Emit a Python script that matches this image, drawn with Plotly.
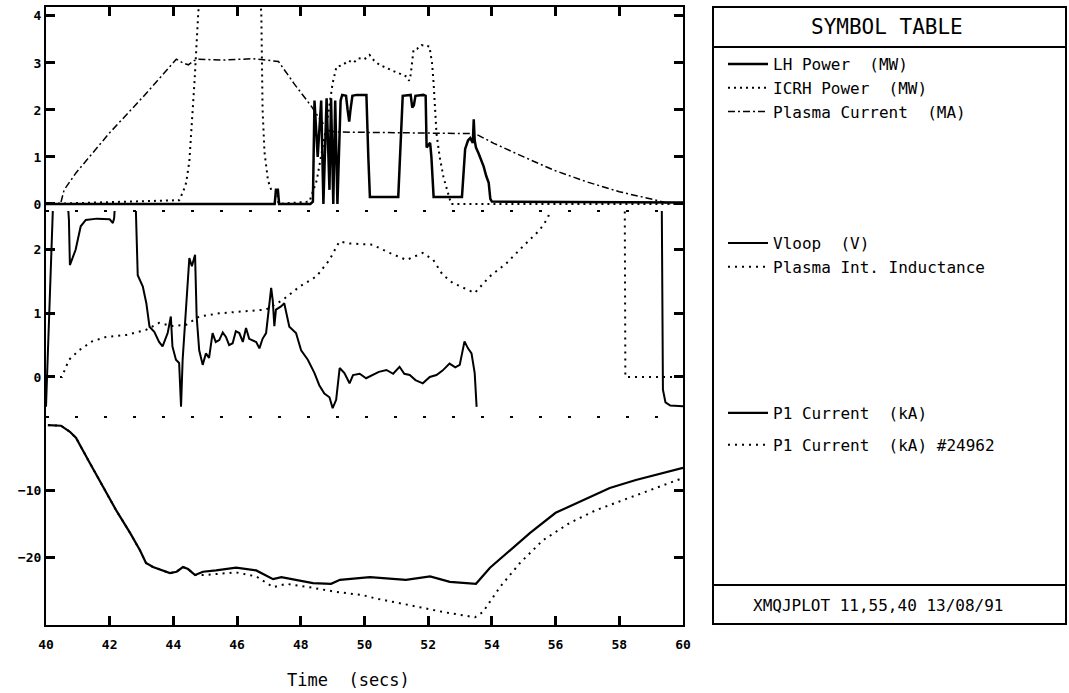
import plotly.graph_objects as go

# ---------------- data ----------------
t_lh = [40.0, 47.18, 47.22, 47.28, 47.32, 48.3, 48.38, 48.43, 48.53, 48.64, 48.71, 48.81, 48.9, 48.95,
        49.02, 49.08, 49.15, 49.25, 49.3, 49.42, 49.47, 49.52, 49.56, 49.62, 49.75, 50.06, 50.12, 50.17,
        51.06, 51.12, 51.2, 51.45, 51.5, 51.55, 51.6, 51.85, 51.92, 51.95, 52.06, 52.1, 52.17, 53.06,
        53.16, 53.25, 53.32, 53.4, 53.43, 53.46, 53.5, 53.58, 53.66, 53.74, 53.82, 53.9, 53.95, 54.0, 60.0]
lh_power = [0, 0, 0.3, 0.3, 0, 0, 0.05, 2.2, 1.0, 2.2, 0, 2.25, 0.3, 2.25,
            0, 2.2, 0, 2.2, 2.32, 2.3, 2.0, 1.75, 2.0, 2.3, 2.32, 2.32, 1.0, 0.15,
            0.15, 1.2, 2.3, 2.32, 2.05, 2.1, 2.3, 2.32, 2.3, 1.2, 1.3, 1.0, 0.15, 0.15,
            1.17, 1.35, 1.4, 1.3, 1.8, 1.35, 1.2, 1.08, 0.95, 0.8, 0.6, 0.45, 0.11, 0.05, 0.03]

t_icrh = [40.0, 44.18, 44.3, 44.4, 44.5, 44.56, 44.66, 44.78, 44.9, 46.65, 46.76, 46.8, 46.86, 46.97,
          47.07, 47.25, 47.3, 48.27, 48.5, 48.8, 49.0, 49.12, 49.3, 49.5, 49.65, 49.8, 50.0, 50.16,
          50.3, 50.47, 50.8, 51.0, 51.23, 51.35, 51.4, 51.45, 51.54, 51.65, 51.79, 52.04, 52.12, 52.17,
          52.26, 52.36, 52.48, 52.67, 52.72, 60.0]
icrh_power = [0, 0.08, 0.25, 0.45, 0.9, 1.5, 2.57, 4.06, 5.0, 5.0, 4.06, 2.0, 1.1, 0.5,
              0.3, 0.27, 0.0, 0.05, 0.5, 1.64, 2.57, 2.92, 2.95, 3.05, 3.0, 3.1, 3.08, 3.17,
              3.05, 2.96, 2.85, 2.8, 2.74, 2.7, 2.62, 2.75, 3.28, 3.3, 3.38, 3.35, 3.0, 2.57,
              1.5, 1.0, 0.57, 0.15, 0.0, 0.0]

t_ip = [40.47, 40.57, 40.94, 41.98, 43.05, 44.09, 44.3, 44.47, 44.65, 44.8, 45.5, 46.0, 46.5, 46.82,
        47.1, 47.3, 47.8, 48.33, 48.6, 48.9, 49.12, 50.0, 51.0, 52.0, 53.0, 53.46, 54.06, 55.0, 55.94,
        56.98, 58.0, 59.09, 59.6]
plasma_current = [0.04, 0.3, 0.66, 1.5, 2.28, 3.08, 3.0, 2.96, 3.05, 3.08, 3.06, 3.08, 3.09, 3.07,
                  3.05, 3.03, 2.55, 2.08, 1.8, 1.55, 1.53, 1.52, 1.52, 1.5, 1.5, 1.5, 1.29, 1.0, 0.72,
                  0.47, 0.26, 0.09, 0.0]

t_vl = [40.0, 40.05, 40.1, 40.18, 40.22, 40.3, 40.65, 40.72, 40.75, 40.93, 41.09, 41.25, 41.6, 42.0,
        42.1, 42.14, 42.2, 42.8, 42.83, 42.88, 43.04, 43.15, 43.25, 43.4, 43.55, 43.66, 43.82, 43.92,
        43.97, 44.08, 44.18, 44.24, 44.29, 44.45, 44.5, 44.58, 44.68, 44.73, 44.81, 44.92, 45.02, 45.12,
        45.23, 45.33, 45.44, 45.55, 45.65, 45.75, 45.86, 45.96, 46.07, 46.18, 46.28, 46.38, 46.49, 46.6,
        46.7, 46.8, 46.91, 47.01, 47.07, 47.12, 47.17, 47.22, 47.38, 47.48, 47.64, 47.85, 48.01, 48.22,
        48.43, 48.58, 48.74, 48.9, 49.0, 49.11, 49.22, 49.37, 49.53, 49.64, 49.85, 50.05, 50.25, 50.45,
        50.69, 50.9, 51.1, 51.25, 51.42, 51.6, 51.83, 52.05, 52.26, 52.45, 52.67, 52.85, 52.99, 53.14,
        53.25, 53.36, 53.46, 53.52, None, 59.33, 59.37, 59.45, 59.6, 60.0]
vloop = [-0.47, 0.27, 1.0, 2.2, 2.7, 3.0, 3.0, 2.47, 1.76, 2.0, 2.37, 2.47, 2.49, 2.48,
         2.42, 2.5, 3.0, 3.0, 2.5, 1.6, 1.42, 1.16, 0.79, 0.71, 0.55, 0.48, 0.69, 0.95,
         0.48, 0.27, 0.22, -0.47, 0.27, 1.48, 1.87, 1.74, 1.92, 0.95, 0.42, 0.19, 0.37, 0.3,
         0.69, 0.55, 0.58, 0.7, 0.63, 0.5, 0.53, 0.72, 0.69, 0.55, 0.77, 0.6, 0.58, 0.55,
         0.45, 0.6, 0.69, 1.21, 1.4, 1.2, 0.8, 1.06, 1.11, 1.16, 0.79, 0.69, 0.42, 0.27,
         0.06, -0.13, -0.26, -0.32, -0.49, -0.36, 0.14, 0.06, -0.1, 0.03, 0.05, -0.02, 0.03, 0.08,
         0.11, 0.05, 0.16, 0.05, 0.03, -0.05, -0.1, 0.0, 0.03, 0.1, 0.21, 0.15, 0.19, 0.56,
         0.45, 0.37, 0.06, -0.47, None, 3.0, -0.2, -0.4, -0.45, -0.46]

t_li = [40.0, 40.5, 40.72, 41.04, 41.45, 41.89, 42.52, 43.14, 43.55, 43.97, 44.4, 44.81, 45.44, 46.07,
        46.91, 47.43, 47.96, 48.49, 48.9, 49.21, 49.53, 50.25, 50.79, 51.32, 51.83, 52.16, 52.45, 52.77,
        53.09, 53.46, 53.93, 54.46, 54.97, 55.5, 55.76, 56.0, 58.1, 58.17, 58.19, 60.0]
inductance = [0, 0, 0.27, 0.42, 0.56, 0.63, 0.66, 0.74, 0.85, 0.8, 0.82, 0.95, 1.0, 1.03,
              1.06, 1.21, 1.42, 1.58, 1.84, 2.13, 2.1, 2.08, 1.95, 1.84, 1.95, 1.84, 1.61, 1.48,
              1.4, 1.32, 1.58, 1.79, 2.05, 2.31, 2.5, 3.0, 3.0, 3.0, 0.0, 0.0]

t_p1 = [40.06, 40.47, 40.75, 40.94, 41.38, 41.79, 42.2, 42.64, 42.95, 43.14, 43.36, 43.89, 44.1, 44.3,
        44.46, 44.68, 44.93, 45.34, 45.97, 46.6, 47.13, 47.39, 47.86, 48.38, 48.95, 49.23, 50.17, 51.3,
        52.06, 52.68, 53.5, 53.94, 54.57, 55.2, 56.0, 56.86, 57.7, 58.52, 59.37, 60.0]
p1_current = [-0.3, -0.4, -1.3, -2.2, -6.0, -9.6, -13.0, -16.4, -19.0, -20.9, -21.5, -22.4, -22.2, -21.5,
              -21.8, -22.7, -22.2, -22.0, -21.6, -22.0, -23.3, -23.0, -23.4, -23.9, -24.0, -23.4, -23.0, -23.4,
              -22.9, -23.7, -24.0, -21.6, -19.0, -16.4, -13.4, -11.5, -9.7, -8.5, -7.5, -6.7]

t_p1ref = [40.06, 40.47, 40.75, 40.94, 41.38, 41.79, 42.2, 42.64, 42.95, 43.14, 43.36, 43.89, 44.1, 44.3,
           44.46, 44.68, 44.93, 45.97, 46.6, 47.13, 47.55, 48.38, 49.1, 49.95, 50.36, 51.43, 52.46, 53.47,
           53.72, 54.25, 54.88, 55.6, 56.45, 57.27, 58.12, 58.96, 60.0]
p1_current_24962 = [-0.3, -0.4, -1.3, -2.2, -6.0, -9.6, -13.0, -16.4, -19.0, -20.9, -21.5, -22.4, -22.2, -21.5,
                    -21.8, -22.7, -22.7, -22.3, -22.9, -24.5, -24.0, -24.6, -25.2, -25.7, -26.2, -27.2, -28.2, -29.0,
                    -28.2, -24.5, -20.9, -17.5, -14.9, -13.0, -11.5, -10.0, -8.2]

x_ticks = [40, 42, 44, 46, 48, 50, 52, 54, 56, 58, 60]
top_ticks = [0, 1, 2, 3, 4]
mid_ticks = [0, 1, 2]
bot_ticks = [-20, -10]

# ---------------- figure ----------------
MONO = "DejaVu Sans Mono"
W, H = 1069, 693
L, R, T, B = 46, 386, 7, 68
PW, PH = W - L - R, H - T - B


def px_x(px):
    return (px - L) / PW


def px_y(py):
    return (H - B - py) / PH


fig = go.Figure()

fig.add_trace(go.Scatter(x=t_lh, y=lh_power, mode="lines", name="LH Power\u00a0 (MW)",
                         line=dict(color="black", width=2.5), xaxis="x3", yaxis="y3", legend="legend"))
fig.add_trace(go.Scatter(x=t_icrh, y=icrh_power, mode="lines", name="ICRH Power\u00a0 (MW)",
                         line=dict(color="black", width=2, dash="2px,4px"), xaxis="x3", yaxis="y3",
                         legend="legend"))
fig.add_trace(go.Scatter(x=t_ip, y=plasma_current, mode="lines", name="Plasma Current\u00a0 (MA)",
                         line=dict(color="black", width=1.5, dash="7px,3px,2px,3px"), xaxis="x3", yaxis="y3",
                         legend="legend"))

fig.add_trace(go.Scatter(x=t_vl, y=vloop, mode="lines", name="Vloop\u00a0 (V)", connectgaps=False,
                         line=dict(color="black", width=2), xaxis="x2", yaxis="y2", legend="legend2"))
fig.add_trace(go.Scatter(x=t_li, y=inductance, mode="lines", name="Plasma Int. Inductance",
                         line=dict(color="black", width=2, dash="2px,5px"), xaxis="x2", yaxis="y2",
                         legend="legend2"))

fig.add_trace(go.Scatter(x=t_p1, y=p1_current, mode="lines", name="P1 Current\u00a0 (kA)",
                         line=dict(color="black", width=2.2), xaxis="x", yaxis="y",
                         legend="legend3", legendgroup="a"))
fig.add_trace(go.Scatter(x=t_p1ref, y=p1_current_24962, mode="lines", name="P1 Current\u00a0 (kA) #24962",
                         line=dict(color="black", width=2, dash="2px,5px"), xaxis="x", yaxis="y",
                         legend="legend3", legendgroup="b"))

d1 = px_y(417)
d2 = px_y(211)

axis_common = dict(showgrid=False, zeroline=False, linecolor="black", linewidth=2,
                   tickcolor="black", tickwidth=2.5, ticks="inside", ticklen=9)
tickfont = dict(family=MONO, size=13, color="black", weight="bold")

legend_common = dict(bgcolor="rgba(0,0,0,0)", borderwidth=0, xanchor="left", yanchor="top",
                     itemwidth=40,
                     font=dict(family=MONO, size=16, color="black"), itemclick=False)

fig.update_layout(
    width=W, height=H,
    margin=dict(l=L, r=R, t=T, b=B, pad=0),
    paper_bgcolor="white", plot_bgcolor="white",
    showlegend=True,
    xaxis=dict(domain=[0, 1], range=[40, 60], anchor="y", tickvals=x_ticks, showline=True,
               tickfont=tickfont, ticklabelstandoff=6, **axis_common),
    xaxis2=dict(domain=[0, 1], range=[40, 60], anchor="y2", showticklabels=False,
                showline=False, showgrid=False, zeroline=False, ticks=""),
    xaxis3=dict(domain=[0, 1], range=[40, 60], anchor="y3", side="top", tickvals=x_ticks,
                showticklabels=False, showline=True, **axis_common),
    yaxis=dict(domain=[0, d1], range=[-30.15, 0.9], tickvals=bot_ticks, showline=True, mirror="ticks",
               tickfont=tickfont, **axis_common),
    yaxis2=dict(domain=[d1, d2], range=[-0.63, 2.61], tickvals=mid_ticks, showline=True, mirror="ticks",
                tickfont=tickfont, **axis_common),
    yaxis3=dict(domain=[d2, 1], range=[-0.15, 4.19], tickvals=top_ticks, showline=True, mirror="ticks",
                tickfont=tickfont, **axis_common),
    legend=dict(x=px_x(723), y=px_y(47), tracegroupgap=0, **legend_common),
    legend2=dict(x=px_x(723), y=px_y(226), tracegroupgap=0, **legend_common),
    legend3=dict(x=px_x(723), y=px_y(396), tracegroupgap=8, **legend_common),
)

# panel separators (dotted) and symbol table frame
sep_line = dict(color="black", width=2, dash="3px,26px")
shapes = [
    dict(type="line", xref="paper", yref="paper", x0=0, x1=1, y0=d1, y1=d1, line=sep_line),
    dict(type="line", xref="paper", yref="paper", x0=0, x1=1, y0=d2, y1=d2, line=sep_line),
    dict(type="rect", xref="paper", yref="paper", x0=px_x(713), x1=px_x(1066), y0=px_y(624), y1=px_y(7),
         line=dict(color="black", width=2)),
    dict(type="line", xref="paper", yref="paper", x0=px_x(713), x1=px_x(1066), y0=px_y(47), y1=px_y(47),
         line=dict(color="black", width=2)),
    dict(type="line", xref="paper", yref="paper", x0=px_x(713), x1=px_x(1066), y0=px_y(585), y1=px_y(585),
         line=dict(color="black", width=2)),
]
fig.update_layout(shapes=shapes)

annotations = [
    dict(text="Time\u00a0 (secs)", x=px_x(348), y=px_y(680), xref="paper", yref="paper", showarrow=False,
         xanchor="center", yanchor="middle", font=dict(family=MONO, size=17, color="black")),
    dict(text="SYMBOL TABLE", x=px_x(887), y=px_y(27), xref="paper", yref="paper", showarrow=False,
         xanchor="center", yanchor="middle", font=dict(family=MONO, size=21, color="black")),
    dict(text="XMQJPLOT 11,55,40 13/08/91", x=px_x(878), y=px_y(605), xref="paper", yref="paper",
         showarrow=False, xanchor="center", yanchor="middle", font=dict(family=MONO, size=16, color="black")),
]
fig.update_layout(annotations=annotations)

fig.write_html("out.html")
